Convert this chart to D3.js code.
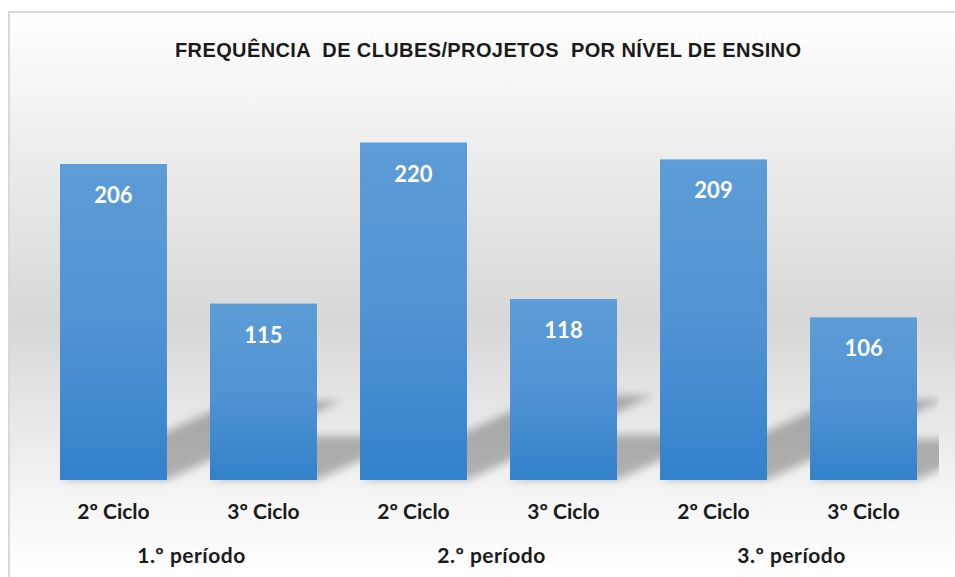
<!DOCTYPE html>
<html>
<head>
<meta charset="utf-8">
<script src="https://cdn.jsdelivr.net/npm/d3@7"></script>
<style>
  body { margin: 0; background: #fff; }
  svg { display: block; }
</style>
</head>
<body>
<div id="chart"></div>
<script>
var title = 'FREQUÊNCIA  DE CLUBES/PROJETOS  POR NÍVEL DE ENSINO';
var periods = ['1.º período', '2.º período', '3.º período'];
var ciclos = ['2º Ciclo', '3º Ciclo'];
var segundoCiclo = [206, 220, 209];
var terceiroCiclo = [115, 118, 106];

var width = 955, height = 577;

// flatten into one row per bar, period by period
var bars = [];
periods.forEach(function(p, i) {
    bars.push({ period: p, ciclo: ciclos[0], value: segundoCiclo[i], key: i + '-0' });
    bars.push({ period: p, ciclo: ciclos[1], value: terceiroCiclo[i], key: i + '-1' });
});

var svg = d3.select('#chart').append('svg')
    .attr('width', width)
    .attr('height', height);

var defs = svg.append('defs');

var bg = defs.append('linearGradient')
    .attr('id', 'bg')
    .attr('gradientUnits', 'userSpaceOnUse')
    .attr('x1', 0).attr('y1', 11).attr('x2', 0).attr('y2', 577);
[[0, '#ffffff'], [0.23, '#eeeeee'], [0.55, '#d7d7d7'], [0.84, '#f3f3f3'], [1, '#ffffff']]
    .forEach(function(s) {
        bg.append('stop').attr('offset', s[0]).attr('stop-color', s[1]);
    });

var barGrad = defs.append('linearGradient')
    .attr('id', 'barGrad')
    .attr('x1', 0).attr('y1', 0).attr('x2', 0).attr('y2', 1);
[[0, '#5c9cd7'], [0.5, '#5193d3'], [1, '#3381cb']]
    .forEach(function(s) {
        barGrad.append('stop').attr('offset', s[0]).attr('stop-color', s[1]);
    });

defs.append('filter')
    .attr('id', 'blur')
    .attr('x', '-50%').attr('y', '-50%').attr('width', '200%').attr('height', '200%')
    .append('feGaussianBlur').attr('stdDeviation', 4);

defs.append('clipPath').attr('id', 'plotClip')
    .append('rect').attr('x', 0).attr('y', 0).attr('width', 939).attr('height', 490);

// chart area
svg.append('rect')
    .attr('x', 9).attr('y', 12)
    .attr('width', 980).attr('height', 600)
    .attr('fill', 'url(#bg)')
    .attr('stroke', '#d9d9d9')
    .attr('stroke-width', 2);

svg.append('text')
    .attr('x', 488).attr('y', 57)
    .attr('text-anchor', 'middle')
    .attr('textLength', 626)
    .style('white-space', 'pre')
    .style('font-family', '"Liberation Sans", Arial, sans-serif')
    .style('font-weight', 'bold')
    .style('font-size', '20px')
    .attr('fill', '#1a1a1a')
    .text(title);

var x = d3.scaleBand()
    .domain(bars.map(function(d) { return d.key; }))
    .range([38.5, 938.5])
    .paddingInner(0.287)
    .paddingOuter(0.1433);

var y = d3.scaleLinear()
    .domain([0, 250])
    .range([480, 96.5]);

// perspective shadows behind bars
svg.append('g')
    .attr('clip-path', 'url(#plotClip)')
    .selectAll('path').data(bars)
    .enter().append('path')
    .attr('d', function(d) {
        var x0 = x(d.key), x1 = x0 + x.bandwidth();
        var base = y(0);
        var sh = (base - y(d.value)) * 0.25;
        var dx = sh * 2.2;
        return 'M' + x0 + ',' + base + 'L' + x1 + ',' + base +
            'L' + (x1 + dx) + ',' + (base - sh) + 'L' + (x0 + dx) + ',' + (base - sh) + 'Z';
    })
    .attr('fill', '#000')
    .attr('opacity', 0.27)
    .attr('filter', 'url(#blur)');

svg.append('g').selectAll('rect').data(bars)
    .enter().append('rect')
    .attr('x', function(d) { return x(d.key); })
    .attr('y', function(d) { return y(d.value); })
    .attr('width', x.bandwidth())
    .attr('height', function(d) { return y(0) - y(d.value); })
    .attr('fill', 'url(#barGrad)');

svg.append('g').selectAll('text').data(bars)
    .enter().append('text')
    .attr('x', function(d) { return x(d.key) + x.bandwidth() / 2; })
    .attr('y', function(d) { return y(d.value) + 39; })
    .attr('text-anchor', 'middle')
    .style('font-family', 'Lato, "Open Sans", sans-serif')
    .style('font-weight', 'bold')
    .style('font-size', '22px')
    .attr('fill', '#fff')
    .text(function(d) { return d.value; });

// category axis, two levels
var xAxis = d3.axisBottom(x)
    .tickSize(0)
    .tickPadding(0)
    .tickFormat(function(k) { return bars.find(function(b) { return b.key === k; }).ciclo; });

var axisG = svg.append('g')
    .attr('transform', 'translate(0,' + 504 + ')')
    .call(xAxis);
axisG.select('.domain').remove();
axisG.selectAll('text')
    .attr('dy', 0)
    .attr('y', 15)
    .style('font-family', 'Lato, "Open Sans", sans-serif')
    .style('font-weight', 'bold')
    .style('font-size', '21px')
    .attr('fill', '#1a1a1a');

svg.append('g').selectAll('text').data(periods)
    .enter().append('text')
    .attr('x', function(p, i) {
        var a = x(i + '-0'), b = x(i + '-1') + x.bandwidth();
        return (a + b) / 2 + 3;
    })
    .attr('y', 563)
    .attr('text-anchor', 'middle')
    .style('font-family', 'Lato, "Open Sans", sans-serif')
    .style('font-weight', 'bold')
    .style('font-size', '21px')
    .style('letter-spacing', '0.5px')
    .attr('fill', '#1a1a1a')
    .text(function(p) { return p; });
</script>
</body>
</html>
